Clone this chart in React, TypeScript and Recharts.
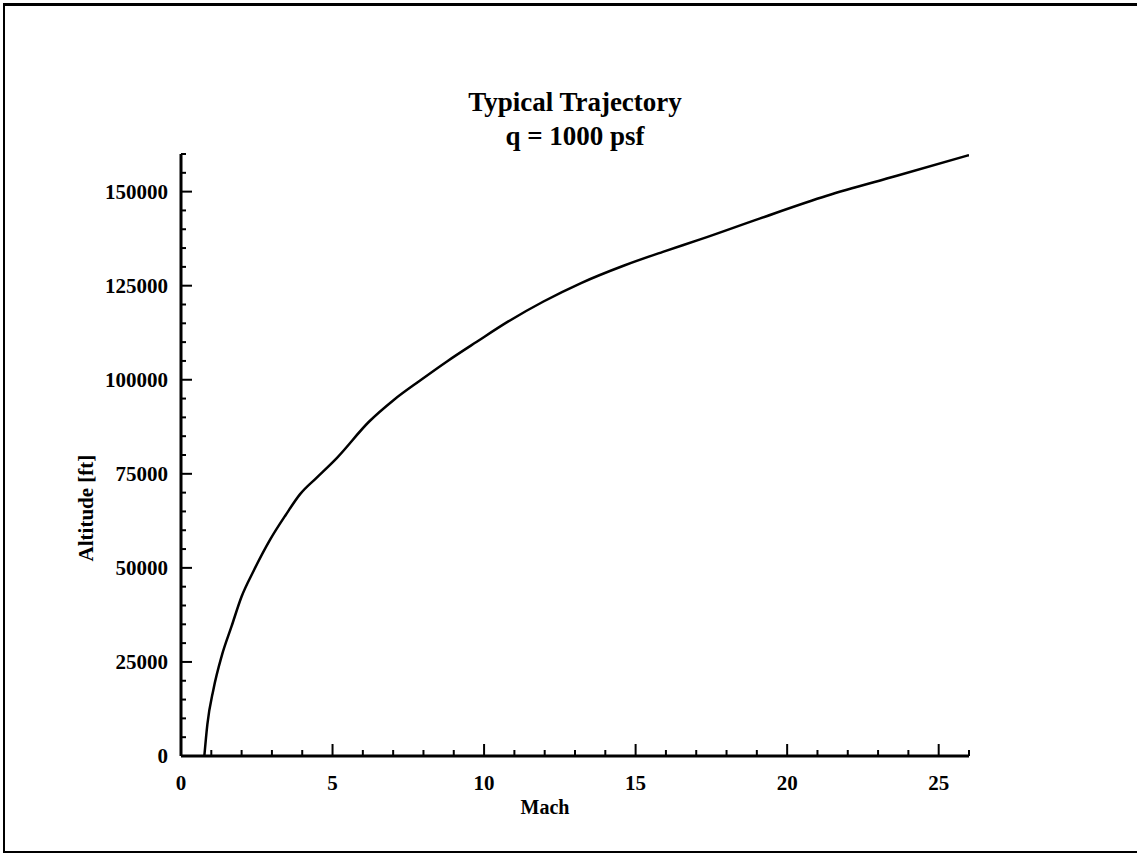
import { LineChart, Line, XAxis, YAxis, Label } from 'recharts';

// trajectory: Mach number vs altitude in ft
const mach = [0.77, 0.87, 1.07, 1.34, 1.67, 2.0, 2.39, 2.94, 3.45, 3.93, 4.48, 5.14, 6.21, 7.0, 7.89, 8.8, 9.76, 10.8, 11.96, 13.2, 14.6, 15.9, 17.13, 19.11, 21.31, 23.62, 26.0];
const altitude = [0, 8400, 17700, 26500, 34500, 42400, 49100, 57500, 64000, 69600, 74000, 79200, 88900, 94500, 99800, 105000, 110100, 115500, 120800, 125700, 130300, 134000, 137300, 142900, 148900, 154200, 159700];

const machTicks = Array.from({ length: 27 }, (_, i) => i);
const altTicks = Array.from({ length: 33 }, (_, i) => i * 5000);

const chartData = mach.map((m, i) => ({ mach: m, alt: altitude[i] }));

const FONT = '"Liberation Serif", "Times New Roman", serif';

const XTick = (props: any) => {
  const { x, y, payload } = props;
  const major = payload.value % 5 === 0;
  return (
    <g>
      <line x1={x} x2={x} y1={y} y2={y - (major ? 12 : 6)} stroke="#000" strokeWidth={2} />
      {major && (
        <text x={x} y={y + 34} textAnchor="middle" fontFamily={FONT} fontWeight="bold" fontSize={21} fill="#000">
          {payload.value}
        </text>
      )}
    </g>
  );
};

const YTick = (props: any) => {
  const { x, y, payload } = props;
  const major = payload.value % 25000 === 0;
  return (
    <g>
      <line x1={x} x2={x + (major ? 11 : 5)} y1={y} y2={y} stroke="#000" strokeWidth={2} />
      {major && (
        <text x={x - 13} y={y + 7} textAnchor="end" fontFamily={FONT} fontWeight="bold" fontSize={21} fill="#000">
          {payload.value}
        </text>
      )}
    </g>
  );
};

const App = () => {
  return (
    <div style={{ position: 'absolute', left: 0, top: 0, width: 1137, height: 857, background: '#fff' }}>
      <div
        style={{
          position: 'absolute',
          left: 3,
          top: 3,
          width: 1134,
          height: 845,
          borderLeft: '2px solid #000',
          borderTop: '3px solid #000',
          borderBottom: '2px solid #000',
        }}
      />
      <LineChart
        width={1137}
        height={857}
        data={chartData}
        margin={{ top: 154, right: 168, bottom: 41, left: 0 }}
        style={{ position: 'absolute', left: 0, top: 0 }}
      >
        <XAxis
          dataKey="mach"
          type="number"
          domain={[0, 26]}
          ticks={machTicks}
          interval={0}
          height={60}
          tickSize={0}
          tickMargin={0}
          tickLine={false}
          tick={<XTick />}
          axisLine={{ stroke: '#000', strokeWidth: 3 }}
          allowDataOverflow
        >
          <Label
            value="Mach"
            position="insideBottom"
            offset={2}
            dx={-30}
            fontFamily={FONT}
            fontWeight="bold"
            fontSize={20}
            fill="#000"
          />
        </XAxis>
        <YAxis
          dataKey="alt"
          type="number"
          domain={[0, 160000]}
          ticks={altTicks}
          interval={0}
          width={181}
          tickSize={0}
          tickMargin={0}
          tickLine={false}
          tick={<YTick />}
          axisLine={{ stroke: '#000', strokeWidth: 3 }}
          allowDataOverflow
        >
          <Label
            value="Altitude [ft]"
            angle={-90}
            content={(p: any) => {
              const vb = p.viewBox || {};
              const cx = 93;
              const cy = vb.y + vb.height / 2 + 53;
              return (
                <text
                  x={cx}
                  y={cy}
                  transform={`rotate(-90 ${cx} ${cy})`}
                  textAnchor="middle"
                  fontFamily={FONT}
                  fontWeight="bold"
                  fontSize={21}
                  fill="#000"
                >
                  Altitude [ft]
                </text>
              );
            }}
          />
        </YAxis>
        <Line
          type="monotone"
          dataKey="alt"
          stroke="#000"
          strokeWidth={2.5}
          dot={false}
          isAnimationActive={false}
        />
      </LineChart>
      <svg width={1137} height={200} style={{ position: 'absolute', left: 0, top: 0, pointerEvents: 'none' }}>
        <text x={575} y={111} textAnchor="middle" fontFamily={FONT} fontWeight="bold" fontSize={27} fill="#000">
          Typical Trajectory
        </text>
        <text x={575} y={145} textAnchor="middle" fontFamily={FONT} fontWeight="bold" fontSize={27} fill="#000">
          q = 1000 psf
        </text>
      </svg>
    </div>
  );
};

export default App;
